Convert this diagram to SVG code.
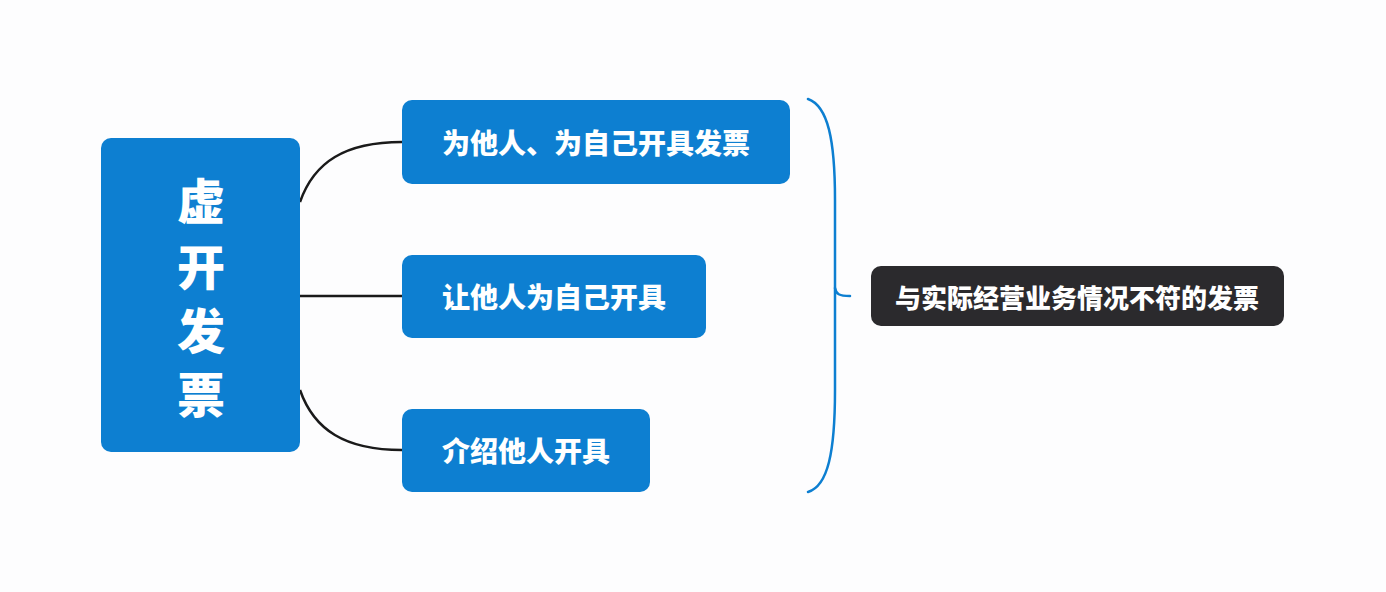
<svg xmlns="http://www.w3.org/2000/svg" width="1386" height="592" viewBox="0 0 1386 592">
<style>
.blue{fill:#0d7fd1;}
.dark{fill:#2b2a2d;}
.t{font-family:"Noto Sans CJK SC","Noto Sans",sans-serif;font-weight:900;fill:#ffffff;text-anchor:middle;dominant-baseline:central;}
.conn{fill:none;stroke:#1a1a1a;stroke-width:2.5;}
.brace{fill:none;stroke:#0d7fd1;stroke-width:2.5;stroke-linecap:round;}
</style>
<rect width="1386" height="592" fill="#fdfdfe"/>
<g id="connectors">
<path class="conn" d="M300,202 C314,162 345,142 402,142"/>
<path class="conn" d="M300,296 L402,296"/>
<path class="conn" d="M300,390 C314,430 345,450 402,450"/>
<path class="brace" d="M808,99 C828,106 835,140 835,200 L835,390 C835,452 828,486 808,492"/>
<path class="brace" d="M835,288 C836,294 839,296 850,296"/>
</g>
<g id="root">
<rect class="blue" x="101" y="138" width="199" height="314" rx="10"/>
<text class="t" x="201" y="198" font-size="48">虚</text>
<text class="t" x="201" y="264" font-size="48">开</text>
<text class="t" x="201" y="328" font-size="48">发</text>
<text class="t" x="201" y="392" font-size="48">票</text>
</g>
<g id="child1">
<rect class="blue" x="402" y="100" width="388" height="84" rx="10"/>
<text class="t" x="596" y="142" font-size="28">为他人、为自己开具发票</text>
</g>
<g id="child2">
<rect class="blue" x="402" y="255" width="304" height="83" rx="10"/>
<text class="t" x="554" y="296" font-size="28">让他人为自己开具</text>
</g>
<g id="child3">
<rect class="blue" x="402" y="409" width="248" height="83" rx="10"/>
<text class="t" x="526" y="450" font-size="28">介绍他人开具</text>
</g>
<g id="summary">
<rect class="dark" x="871" y="266" width="413" height="60" rx="10"/>
<text class="t" x="1077" y="296" font-size="26">与实际经营业务情况不符的发票</text>
</g>
</svg>
